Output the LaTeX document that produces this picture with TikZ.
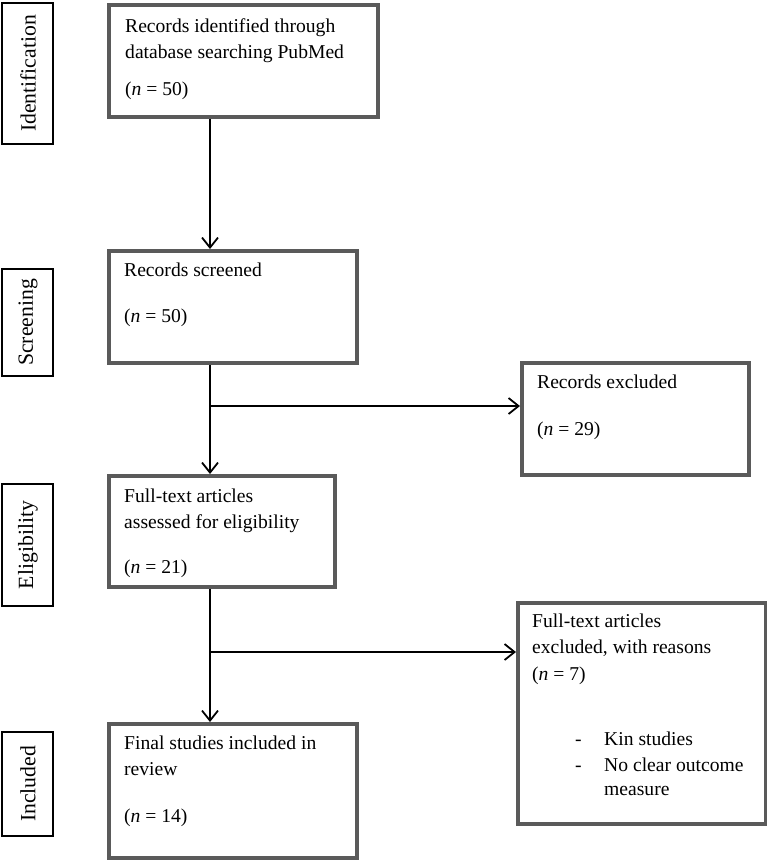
\documentclass[tikz,border=0pt]{standalone}
\usepackage{fontspec}
\setmainfont{Liberation Serif}
\usetikzlibrary{arrows.meta}
\definecolor{boxgray}{HTML}{5A5A5A}
\begin{document}
\begin{tikzpicture}[x=1pt,y=-1pt,
  box/.style={draw=boxgray, line width=4pt, fill=white},
  phase/.style={draw=black, line width=2pt},
  phasetxt/.style={rotate=90, font=\fontsize{21.7}{26}\selectfont, inner sep=0},
  txt/.style={anchor=base west, inner sep=0, font=\fontsize{19.6}{23}\selectfont},
  arr/.style={draw=black, line width=1.8pt, -{Straight Barb[length=10pt,width=16pt,line width=1.8pt]}},
  conn/.style={draw=black, line width=1.8pt}]
\useasboundingbox (0,0) rectangle (767,860);
% phase labels
\draw[phase] (2,3) rectangle (53,144);
\node[phasetxt] (tI) at (28,73.5) {Identification};
\draw[phase] (2,269) rectangle (53,376);
\node[phasetxt] (tS) at (28,322.5) {Screening};
\draw[phase] (2,484) rectangle (53,606);
\node[phasetxt] (tE) at (28,545) {Eligibility};
\draw[phase] (2,732) rectangle (53,836);
\node[phasetxt] (tN) at (28,784) {Included};
% boxes
\node[box, anchor=north west, minimum width=269pt, minimum height=112pt, inner sep=0] (b1) at (107,3) {};
\node[box, anchor=north west, minimum width=248pt, minimum height=112pt, inner sep=0] (b2) at (107,249) {};
\node[box, anchor=north west, minimum width=226pt, minimum height=111pt, inner sep=0] (b3) at (107,474) {};
\node[box, anchor=north west, minimum width=248pt, minimum height=134pt, inner sep=0] (b4) at (107,722) {};
\node[box, anchor=north west, minimum width=227pt, minimum height=112pt, inner sep=0] (x1) at (520,361) {};
\node[box, anchor=north west, minimum width=248pt, minimum height=221pt, inner sep=0] (x2) at (516,601) {};
% texts
\node[txt] (b1a) at (125,32) {Records identified through};
\node[txt] (b1b) at (125,58) {database searching PubMed};
\node[txt] (b1c) at (125,95) {(\textit{n} = 50)};
\node[txt] (b2a) at (124,276) {Records screened};
\node[txt] (b2b) at (124,322) {(\textit{n} = 50)};
\node[txt] (b3a) at (124,502) {Full-text articles};
\node[txt] (b3b) at (124,528) {assessed for eligibility};
\node[txt] (b3c) at (124,573) {(\textit{n} = 21)};
\node[txt] (b4a) at (124,749) {Final studies included in};
\node[txt] (b4b) at (124,775) {review};
\node[txt] (b4c) at (124,822) {(\textit{n} = 14)};
\node[txt] (x1a) at (537,388) {Records excluded};
\node[txt] (x1b) at (537,435) {(\textit{n} = 29)};
\node[txt] (x2a) at (532,627) {Full-text articles};
\node[txt] (x2b) at (532,653) {excluded, with reasons};
\node[txt] (x2c) at (532,680) {(\textit{n} = 7)};
\node[txt] (x2d) at (575,745) {-};
\node[txt] (x2e) at (604,745) {Kin studies};
\node[txt] (x2f) at (575,771) {-};
\node[txt] (x2g) at (604,771) {No clear outcome};
\node[txt] (x2h) at (604,795) {measure};
% connectors
\coordinate (col) at (210,0);
\coordinate (j1) at (210,406);
\coordinate (j2) at (210,652);
\draw[arr] (b1.south -| col) -- (b2.north -| col);
\draw[arr] (b2.south -| col) -- (b3.north -| col);
\draw[arr] (b3.south -| col) -- (b4.north -| col);
\draw[arr] (j1) -- (j1 -| x1.west);
\draw[arr] (j2) -- (j2 -| x2.west);
\end{tikzpicture}
\end{document}
